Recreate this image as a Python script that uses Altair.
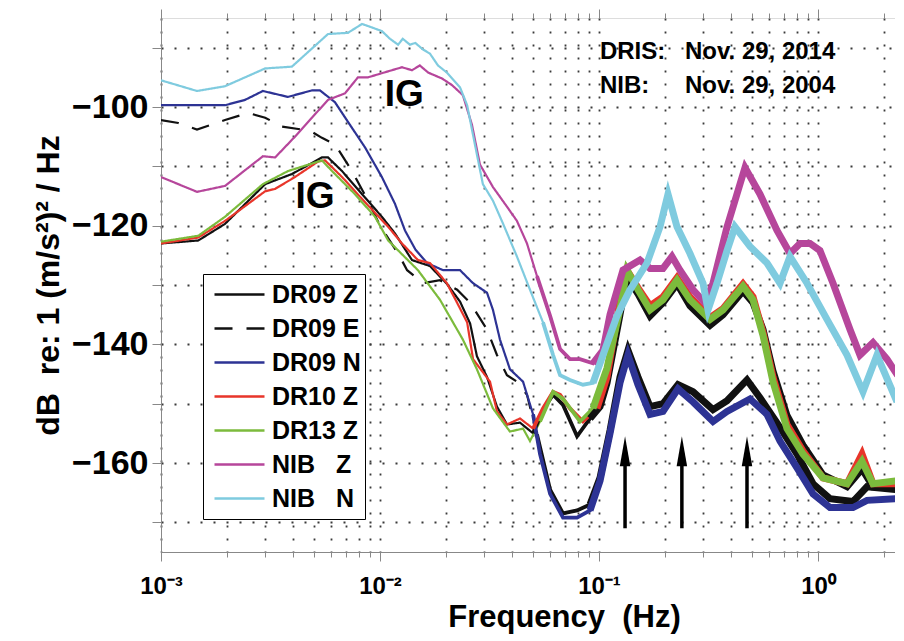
import altair as alt
import pandas as pd

# ---------------- data ----------------
names = ["DR09 Z", "DR09 E", "DR09 N", "DR10 Z", "DR13 Z",
         "NIB\u00a0\u00a0\u00a0Z", "NIB\u00a0\u00a0\u00a0N"]
colors = ["#111111", "#111111", "#2d3394", "#e8352a", "#7cbb3c", "#b6469b", "#7fcbdf"]
dashes = [[1, 0], [18, 14], [1, 0], [1, 0], [1, 0], [1, 0], [1, 0]]

dr09z_f = [0.001, 0.00148, 0.00196, 0.00299, 0.00396, 0.00543, 0.00579, 0.00671, 0.00828, 0.0102,
           0.0117, 0.0140, 0.0169, 0.0202, 0.0232, 0.0258, 0.0277, 0.0308, 0.0342, 0.0380,
           0.0436, 0.0500, 0.0555, 0.0617, 0.0685, 0.0794, 0.0910, 0.1011, 0.1088, 0.1247,
           0.1342, 0.1507, 0.1710, 0.1960, 0.2271, 0.2603, 0.3213, 0.3684, 0.4545, 0.5050,
           0.5610, 0.6229, 0.7217, 0.8543, 1.054, 1.357, 1.588, 1.783, 2.295]
dr09z_db = [-123.0, -122.5, -119.7, -113.0, -111.3, -108.5, -108.5, -110.8, -114.7, -118.5,
            -121.3, -125.8, -126.8, -129.8, -132.8, -136.5, -142.0, -145.5, -150.5, -153.5,
            -153.2, -155.0, -151.0, -148.5, -150.2, -155.5, -152.5, -150.5, -146.5, -135.0,
            -128.5, -131.5, -135.2, -133.0, -129.8, -133.5, -136.8, -135.0, -131.0, -133.0,
            -137.5, -144.5, -152.0, -157.0, -162.0, -164.0, -161.0, -164.0, -164.0]

dr09e_f = [0.001, 0.0012, 0.00146, 0.00196, 0.0025, 0.00299, 0.00357, 0.0044, 0.00489, 0.00543,
           0.00623, 0.00745, 0.00882, 0.01, 0.0121, 0.0133, 0.0157, 0.0188, 0.0225, 0.0258,
           0.0308, 0.0342, 0.0380, 0.0422, 0.0469, 0.0521, 0.0598, 0.0685, 0.0794, 0.0910,
           0.1011, 0.1123, 0.1247, 0.1356, 0.1507, 0.1710, 0.1960, 0.2295, 0.2687, 0.3316,
           0.3843, 0.474, 0.5435, 0.6706, 0.8020, 0.9489, 1.134, 1.445, 1.674, 2.295]
dr09e_db = [-102.2, -102.7, -103.8, -102.2, -101.0, -101.8, -103.3, -103.8, -104.2, -105.2,
            -106.3, -110.8, -115.8, -120.0, -124.7, -127.5, -129.7, -129.2, -130.8, -133.0,
            -137.5, -141.8, -145.2, -146.3, -148.5, -155.2, -164.5, -168.5, -168.0, -167.0,
            -162.5, -154.5, -145.5, -141.0, -145.5, -150.5, -150.0, -146.8, -148.0, -151.0,
            -149.5, -146.0, -149.0, -154.0, -158.5, -163.5, -166.0, -166.5, -164.0, -164.5]

dr09n_f = [0.001, 0.00196, 0.00242, 0.00292, 0.0038, 0.00489, 0.00532, 0.00623, 0.00714, 0.00854,
           0.0102, 0.0117, 0.0130, 0.0145, 0.0164, 0.0194, 0.0232, 0.0266, 0.0308, 0.0328,
           0.0353, 0.0392, 0.0450, 0.0500, 0.0538, 0.0598, 0.0685, 0.0794, 0.0910, 0.1011,
           0.1123, 0.1247, 0.1356, 0.1507, 0.1710, 0.1960, 0.2295, 0.2687, 0.3316, 0.3843,
           0.4893, 0.5849, 0.6706, 0.8020, 0.9489, 1.134, 1.445, 1.674, 2.295]
dr09n_db = [-99.7, -99.7, -98.8, -97.3, -98.3, -97.2, -97.2, -99.2, -102.5, -106.8,
            -111.8, -116.3, -120.8, -124.0, -126.3, -127.5, -127.5, -129.7, -131.3, -134.2,
            -139.2, -144.2, -146.3, -151.8, -158.5, -165.2, -169.2, -169.2, -168.0, -163.0,
            -155.0, -146.5, -141.8, -146.8, -151.8, -151.3, -147.5, -149.7, -153.0, -151.3,
            -149.2, -151.8, -156.3, -160.8, -165.2, -167.5, -167.5, -166.3, -166.0]

dr10z_f = [0.001, 0.00148, 0.00196, 0.00299, 0.00332, 0.00409, 0.00521, 0.00561, 0.00671, 0.00828,
           0.0109, 0.0126, 0.0149, 0.0169, 0.0202, 0.0225, 0.0250, 0.0266, 0.0318, 0.0342,
           0.0380, 0.0436, 0.0500, 0.0555, 0.0617, 0.0664, 0.0737, 0.0845, 0.0979, 0.1088,
           0.1247, 0.1342, 0.1507, 0.1710, 0.1960, 0.2271, 0.2603, 0.3213, 0.3684, 0.4545,
           0.5050, 0.5610, 0.6229, 0.7217, 0.8543, 1.054, 1.357, 1.588, 1.783, 2.295]
dr10z_db = [-123.0, -122.0, -119.2, -114.2, -113.8, -111.8, -109.2, -109.0, -111.8, -115.5,
            -120.2, -123.0, -125.8, -126.3, -129.7, -133.0, -136.3, -142.5, -146.3, -151.3,
            -153.5, -152.5, -154.2, -150.8, -148.0, -148.5, -150.8, -153.0, -150.8, -145.5,
            -132.5, -127.5, -130.5, -133.5, -132.0, -128.8, -132.0, -135.5, -134.0, -129.8,
            -132.0, -138.0, -145.5, -153.5, -158.0, -162.5, -163.5, -158.5, -163.5, -163.5]

dr13z_f = [0.001, 0.00148, 0.00196, 0.00292, 0.0038, 0.00521, 0.00543, 0.00604, 0.00769, 0.00949,
           0.0109, 0.0134, 0.0149, 0.0188, 0.0239, 0.0277, 0.0328, 0.0392, 0.0450, 0.0484,
           0.0538, 0.0617, 0.0685, 0.0819, 0.0939, 0.1088, 0.1247, 0.1342, 0.1507, 0.1710,
           0.1960, 0.2271, 0.2603, 0.3213, 0.3684, 0.4545, 0.5050, 0.5610, 0.6229, 0.7217,
           0.8543, 1.054, 1.357, 1.588, 1.783, 2.295]
dr13z_db = [-122.7, -121.7, -118.5, -113.0, -110.8, -109.2, -109.0, -110.8, -114.7, -118.5,
            -122.5, -125.8, -127.5, -132.5, -139.2, -144.2, -150.8, -154.7, -154.2, -156.3,
            -153.0, -148.0, -149.2, -153.0, -150.8, -144.0, -134.0, -127.5, -130.8, -134.2,
            -132.5, -129.2, -132.5, -135.8, -134.2, -130.2, -132.5, -138.5, -146.3, -154.2,
            -158.5, -162.5, -163.5, -159.7, -163.5, -163.0]

nibz_f = [0.001, 0.00146, 0.00196, 0.00292, 0.00332, 0.00409, 0.00489, 0.00579, 0.00692, 0.00793,
          0.00882, 0.0102, 0.0126, 0.0140, 0.0152, 0.0166, 0.0192, 0.0213, 0.0239, 0.0263,
          0.0286, 0.0328, 0.0380, 0.0422, 0.0469, 0.0521, 0.0598, 0.0664, 0.0737, 0.0819,
          0.0939, 0.1043, 0.1123, 0.1287, 0.1539, 0.1710, 0.1960, 0.2154, 0.2344, 0.2687,
          0.3048, 0.3316, 0.3843, 0.4642, 0.5435, 0.6498, 0.7451, 0.8276, 0.9194, 1.021,
          1.171, 1.400, 1.555, 1.783, 2.065, 2.31]
nibz_db = [-111.8, -114.3, -113.3, -108.3, -108.5, -105.0, -101.8, -98.8, -97.7, -95.0,
           -95.0, -94.3, -93.3, -93.8, -93.0, -94.2, -95.2, -96.3, -98.0, -103.0,
           -109.7, -113.5, -116.8, -119.2, -123.0, -128.5, -135.2, -140.8, -142.5, -142.5,
           -143.2, -141.0, -135.0, -127.5, -125.8, -127.2, -127.2, -125.2, -127.5, -130.8,
           -133.0, -129.7, -120.2, -110.2, -114.7, -120.8, -124.7, -123.0, -123.0, -124.2,
           -129.7, -137.5, -141.8, -139.7, -142.5, -145.2]

nibn_f = [0.001, 0.00146, 0.00196, 0.00299, 0.00396, 0.00579, 0.00714, 0.00828, 0.0102, 0.0111,
          0.0121, 0.0127, 0.0137, 0.0145, 0.0157, 0.0169, 0.0184, 0.0202, 0.0232, 0.0250,
          0.0277, 0.0295, 0.0328, 0.0365, 0.0422, 0.0484, 0.0555, 0.0617, 0.0664, 0.0737,
          0.0845, 0.0939, 0.1043, 0.1208, 0.1386, 0.1657, 0.1899, 0.2066, 0.2271, 0.2603,
          0.2985, 0.3146, 0.3458, 0.3843, 0.4178, 0.4893, 0.5849, 0.6706, 0.7451, 0.8909,
          1.099, 1.357, 1.605, 1.859, 2.295]
nibn_db = [-95.5, -97.3, -96.5, -93.5, -93.2, -87.7, -87.5, -86.0, -87.2, -88.5,
           -89.5, -88.5, -89.5, -89.2, -90.3, -91.0, -93.0, -94.2, -96.7, -99.7,
           -108.0, -113.0, -115.8, -119.7, -125.2, -130.8, -136.3, -141.8, -145.2, -146.0,
           -146.8, -146.5, -141.8, -135.2, -130.8, -126.3, -120.2, -114.7, -120.2, -124.7,
           -129.7, -134.2, -129.7, -124.2, -120.2, -123.5, -126.3, -129.7, -125.2, -129.7,
           -135.8, -141.8, -148.0, -141.8, -149.7]

series_f = [dr09z_f, dr09e_f, dr09n_f, dr10z_f, dr13z_f, nibz_f, nibn_f]
series_db = [dr09z_db, dr09e_db, dr09n_db, dr10z_db, dr13z_db, nibz_db, nibn_db]

x_ticks = [0.001, 0.002, 0.003, 0.004, 0.005, 0.006, 0.007, 0.008, 0.009,
           0.01, 0.02, 0.03, 0.04, 0.05, 0.06, 0.07, 0.08, 0.09,
           0.1, 0.2, 0.3, 0.4, 0.5, 0.6, 0.7, 0.8, 0.9, 1, 2]
y_ticks = [-170, -160, -150, -140, -130, -120, -110, -100, -90]

ig_f = [0.0129, 0.00505]
ig_db = [-97.9, -115.1]
ig_text = ["IG", "IG"]

date_lbl = ["DRIS:", "NIB:"]
date_val = ["Nov. 29, 2014", "Nov. 29, 2004"]
date_lbl_f = [0.101, 0.101]
date_val_f = [0.247, 0.247]
date_db = [-90.7, -96.5]

arrow_f = [0.1315, 0.239, 0.474]
arrow_bottom = [-171.0, -171.0, -171.0]
arrow_head = [-158.0, -158.0, -158.0]

# ---------------- tables ----------------
rows = []
for n, fs, ds in zip(names, series_f, series_db):
    for f, d in zip(fs, ds):
        rows.append({"series": n, "f": f, "db": d})
df = pd.DataFrame(rows)

df_ig = pd.DataFrame({"f": ig_f, "db": ig_db, "t": ig_text})
df_dl = pd.DataFrame({"f": date_lbl_f, "db": date_db, "t": date_lbl})
df_dv = pd.DataFrame({"f": date_val_f, "db": date_db, "t": date_val})
df_ar = pd.DataFrame({"f": arrow_f, "db": arrow_bottom, "db2": arrow_head})
df_ah = pd.DataFrame({"f": arrow_f, "db": arrow_head})
df_xt = pd.DataFrame({"f": x_ticks})

XMAX = 2.247
FONT = "Liberation Sans"
W, H = 734, 534

decade = "abs(log(datum.value)/LN10 - round(log(datum.value)/LN10)) < 0.001"
tick_len = {"condition": {"test": decade, "value": 9}, "value": 5}
GRID = dict(grid=True, gridColor="#3a3a3a", gridDash=[2, 11], gridWidth=1.8, gridOpacity=1)

xscale = alt.Scale(type="log", domain=[0.001, XMAX], nice=False)
yscale = alt.Scale(domain=[-175, -85], nice=False, zero=False)

xaxis = alt.Axis(
    values=x_ticks,
    labelExpr="datum.value == 0.001 ? '10\u207b\u00b3' : datum.value == 0.01 ? '10\u207b\u00b2' : "
              "datum.value == 0.1 ? '10\u207b\u00b9' : datum.value == 1 ? '10\u2070' : ''",
    labelFont=FONT, labelFontSize=24, labelFontWeight="bold", labelPadding=13,
    labelFlush=False, labelOverlap=False,
    tickSize=tick_len,
    title="Frequency\u00a0\u00a0(Hz)", titleFont=FONT, titleFontSize=31, titleFontWeight="bold",
    titlePadding=4, titleX=403, **GRID,
)
yaxis = alt.Axis(
    values=y_ticks, labelExpr="datum.value % 20 == 0 ? datum.label : ''",
    labelFont=FONT, labelFontSize=34, labelFontWeight="bold", labelPadding=4,
    tickSize=9,
    title="dB\u00a0\u00a0re: 1 (m/s\u00b2)\u00b2 / Hz", titleFont=FONT, titleFontSize=32,
    titleFontWeight="bold", titlePadding=6, **GRID,
)

X = alt.X("f:Q", scale=xscale, axis=xaxis)
Y = alt.Y("db:Q", scale=yscale, axis=yaxis)

leg = alt.Legend(
    orient="none", legendX=42, legendY=256, title=None,
    symbolType="stroke", symbolSize=2500, symbolStrokeWidth=2.5, symbolOffset=6,
    labelFont=FONT, labelFontSize=25, labelFontWeight="bold", labelColor="black",
    labelOffset=6, strokeColor="black", fillColor="white", padding=4,
    rowPadding=1, clipHeight=33, cornerRadius=0,
)
color = alt.Color("series:N", scale=alt.Scale(domain=names, range=colors), legend=leg)
dash = alt.StrokeDash("series:N", scale=alt.Scale(domain=names, range=dashes), legend=leg)

thin = alt.Chart(df).mark_line(strokeWidth=2.2, clip=True).encode(x=X, y=Y, color=color, strokeDash=dash)
medium = alt.Chart(df).transform_filter("datum.f >= 0.05").mark_line(
    strokeWidth=3.8, clip=True).encode(x=X, y=Y, color=color)
thick = alt.Chart(df).transform_filter("datum.f >= 0.09").mark_line(
    strokeWidth=7, clip=True).encode(x=X, y=Y, color=color)

ig = alt.Chart(df_ig).mark_text(font=FONT, fontSize=37, fontWeight="bold", color="black",
                                align="center", baseline="middle").encode(x=X, y=Y, text="t:N")
dl = alt.Chart(df_dl).mark_text(font=FONT, fontSize=24, fontWeight="bold", color="black",
                                align="left", baseline="middle").encode(x=X, y=Y, text="t:N")
dv = alt.Chart(df_dv).mark_text(font=FONT, fontSize=24, fontWeight="bold", color="black",
                                align="left", baseline="middle").encode(x=X, y=Y, text="t:N")
shaft = alt.Chart(df_ar).mark_rule(color="black", strokeWidth=3.5).encode(x=X, y=Y, y2="db2:Q")
head = alt.Chart(df_ah).mark_point(shape="M-0.35,1L0,-1L0.35,1Z", size=900, filled=True,
                                   color="black", opacity=1).encode(x=X, y=Y)

inner = alt.layer(thin, medium, thick, shaft, head, ig, dl, dv)

top = alt.Chart(df_xt).mark_rule(opacity=0).encode(
    x=alt.X("f:Q", scale=xscale,
            axis=alt.Axis(orient="top", values=x_ticks, labels=False, grid=False, domain=False,
                          tickSize=tick_len, title=None))
)

chart = alt.layer(inner, top).resolve_axis(x="independent").properties(
    width=W, height=H, padding={"left": 24, "top": 0, "right": 0, "bottom": 3}
).configure_view(stroke="black", strokeWidth=1.5).configure_axis(
    domainColor="black", domainWidth=1.5, tickColor="black", tickWidth=1.5,
    labelColor="black", titleColor="black",
).configure(background="white")

chart.save("out.html", embed_options={"renderer": "svg", "actions": False})
